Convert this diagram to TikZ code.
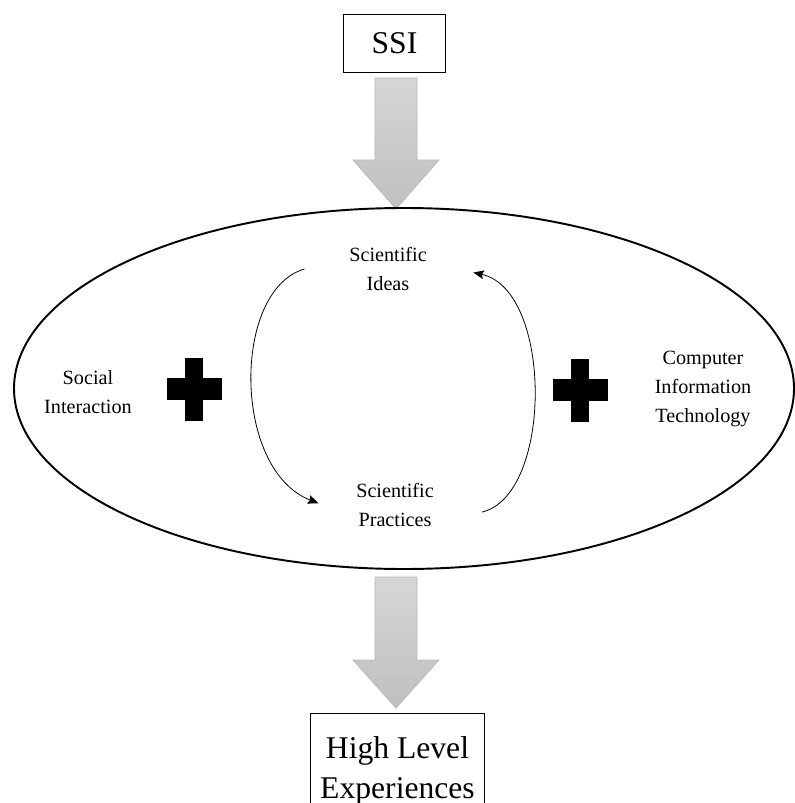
\documentclass[tikz,border=0pt]{standalone}
\usepackage{fontspec}
\setmainfont{Liberation Serif}
\usetikzlibrary{positioning,arrows.meta}

\begin{document}
\begin{tikzpicture}[
  x=0.02cm, y=-0.02cm,
  labelbox/.style={draw, line width=0.6pt, align=center},
  concept/.style={align=center, font=\fontsize{11.5}{16.5}\selectfont},
  fatarrow/.style={draw=black!28, line width=0.4pt, top color=black!16, bottom color=black!25},
  cycle/.style={-{Stealth[length=6pt,width=5pt,inset=1pt]}, line width=0.45pt},
  crossmark/.pic={
    \fill (-9,-31.5) rectangle (9,31.5);
    \fill (-27.5,-11) rectangle (27.5,11);
  }
]
\useasboundingbox (0,0) rectangle (794,803);

% Top and bottom boxes
\node[labelbox, minimum width=58.4pt, minimum height=33.5pt, font=\fontsize{18}{22}\selectfont] (ssi) at (394.5,43.5) {SSI};
\node[labelbox, anchor=north, minimum width=99pt, inner ysep=13pt, font=\fontsize{18}{22.7}\selectfont] (high) at (397.5,713) {High Level\\Experiences};

% Big grey arrows
\path[fatarrow] (375,78) -- (417,78) -- (417,160) -- (439,160) -- (396,209) -- (353,160) -- (375,160) -- cycle;
\path[fatarrow] (375,577) -- (417,577) -- (417,660) -- (439,660) -- (396,708) -- (353,660) -- (375,660) -- cycle;

% Ellipse
\draw[line width=1.1pt] (404,388.5) ellipse [x radius=390, y radius=180.5];

% Concepts inside
\node[concept] (ideas) at (388,269) {Scientific\\Ideas};
\node[concept] (practices) at (395,505) {Scientific\\Practices};
\node[concept] (social) at (88,392.5) {Social\\Interaction};
\node[concept] (cit) at (703,389) {Computer\\Information\\Technology};

% Plus signs
\pic at (194,389) {crossmark};
\pic at (580,390) {crossmark};

% Cycle between ideas and practices
\coordinate (ideasL) at ([xshift=-22pt]ideas.west);
\coordinate (ideasR) at ([xshift=23pt,yshift=-2pt]ideas.east);
\coordinate (pracL) at ([xshift=-18pt,yshift=1pt]practices.west);
\coordinate (pracR) at ([xshift=24pt,yshift=-4pt]practices.east);
\draw[cycle] (ideasL) .. controls (232,290) and (232,470) .. (pracL);
\draw[cycle] (pracR) .. controls (553,495) and (553,290) .. (ideasR);

\end{tikzpicture}
\end{document}
